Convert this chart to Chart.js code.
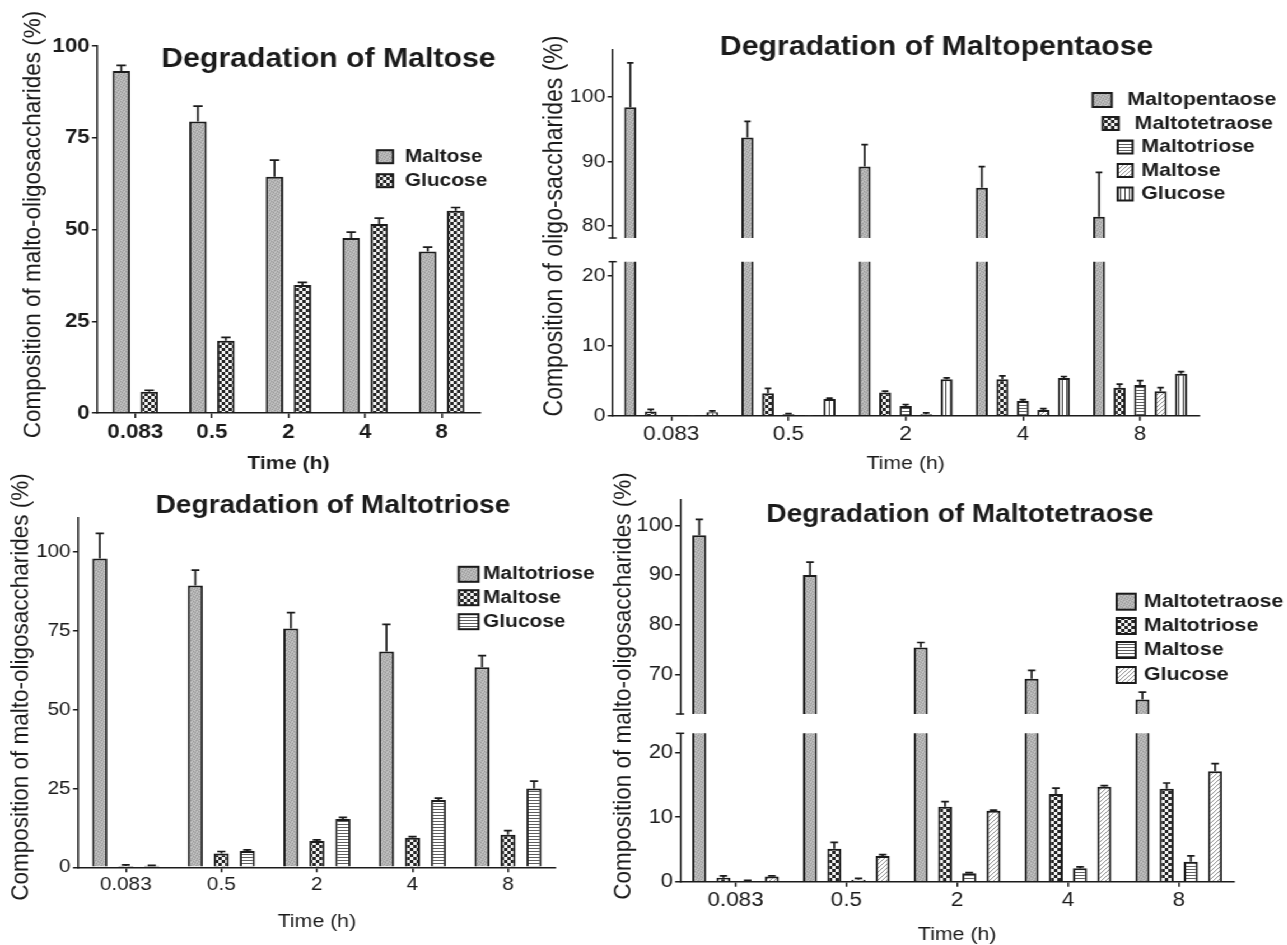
<!DOCTYPE html>
<html>
<head>
<meta charset="utf-8">
<title>Degradation of malto-oligosaccharides</title>
<script src="https://cdn.jsdelivr.net/npm/chart.js@4.4.1/dist/chart.umd.min.js"></script>
<style>
  html, body { margin: 0; padding: 0; background: #ffffff; }
  body { width: 1287px; height: 945px; overflow: hidden; position: relative; }
  /* the whole sheet is laid out at a narrower width and widened horizontally */
  #sheet { position: absolute; left: 0; top: 0; width: 1149.1px; height: 945px;
           transform: scaleX(1.12); transform-origin: 0 0; }
  #sheet canvas { position: absolute; }
</style>
</head>
<body>
<div id="sheet"></div>
<script>
// ---------- data ----------
const times = ['0.083', '0.5', '2', '4', '8'];

// Degradation of Maltose
const mal_maltose   = [93.2, 79.4, 64.4, 47.7, 44.0];
const mal_maltoseSD = [1.5, 4.2, 4.5, 1.6, 1.2];
const mal_glucose   = [5.8, 19.7, 34.9, 51.5, 55.1];
const mal_glucoseSD = [0.4, 0.9, 0.7, 1.6, 0.9];
const mal_yTicks = [0, 25, 50, 75, 100];
const mal_yRange = [0, 100];

// Degradation of Maltopentaose
const pen_maltopentaose   = [98.4, 93.7, 89.2, 85.9, 81.4];
const pen_maltopentaoseSD = [6.9, 2.5, 3.4, 3.3, 6.9];
const pen_maltotetraose   = [0.6, 3.2, 3.3, 5.2, 4.0];
const pen_maltotetraoseSD = [0.3, 0.7, 0.2, 0.5, 0.5];
const pen_maltotriose     = [0.1, 0.2, 1.4, 2.1, 4.4];
const pen_maltotrioseSD   = [0, 0.1, 0.2, 0.2, 0.6];
const pen_maltose         = [0.05, 0.05, 0.2, 0.8, 3.5];
const pen_maltoseSD       = [0, 0, 0.2, 0.2, 0.5];
const pen_glucose         = [0.5, 2.4, 5.2, 5.4, 6.0];
const pen_glucoseSD       = [0.2, 0.1, 0.2, 0.2, 0.3];
const pen_upperTicks = [80, 90, 100];
const pen_upperRange = [78.1, 107.3];
const pen_lowerTicks = [0, 10, 20];
const pen_lowerRange = [0, 22];

// Degradation of Maltotriose
const tri_maltotriose   = [97.9, 89.3, 75.7, 68.4, 63.4];
const tri_maltotrioseSD = [7.9, 4.9, 5.0, 8.6, 3.7];
const tri_maltose       = [0.4, 4.4, 8.3, 9.4, 10.3];
const tri_maltoseSD     = [0.4, 0.6, 0.4, 0.3, 1.3];
const tri_glucose       = [0.5, 5.2, 15.3, 21.3, 25.0];
const tri_glucoseSD     = [0.1, 0.3, 0.5, 0.6, 2.3];
const tri_yTicks = [0, 25, 50, 75, 100];
const tri_yRange = [0, 110.7];

// Degradation of Maltotetraose
const tet_maltotetraose   = [98.0, 90.0, 75.4, 69.1, 64.9];
const tet_maltotetraoseSD = [3.2, 2.6, 1.0, 1.7, 1.5];
const tet_maltotriose     = [0.6, 5.1, 11.6, 13.6, 14.4];
const tet_maltotrioseSD   = [0.3, 1.0, 0.8, 0.9, 0.9];
const tet_maltose         = [0.1, 0.3, 1.3, 2.1, 3.1];
const tet_maltoseSD       = [0.1, 0.2, 0.1, 0.2, 0.9];
const tet_glucose         = [0.8, 4.0, 11.0, 14.7, 17.1];
const tet_glucoseSD       = [0.1, 0.2, 0.1, 0.2, 1.2];
const tet_upperTicks = [70, 80, 90, 100];
const tet_upperRange = [62.0, 105.1];
const tet_lowerTicks = [0, 10, 20];
const tet_lowerRange = [0, 23];

// ---------- drawing ----------
const SX = 1.12;                       // horizontal widening of #sheet
const FONT = "'Liberation Sans', Arial, Helvetica, sans-serif";
const INK = '#1b1b1b';
Chart.defaults.font.family = FONT;
Chart.defaults.color = INK;

// hatch fills for the bars
function fills(ctx) {
  const mk = (w, h, fn) => {
    const c = document.createElement('canvas');
    c.width = w; c.height = h;
    fn(c.getContext('2d'));
    return ctx.createPattern(c, 'repeat');
  };
  return {
    // fine grey stipple: mid grey with a few lighter and darker specks
    stipple: mk(5, 5, g => {
      g.fillStyle = '#b2b2b2'; g.fillRect(0, 0, 5, 5);
      g.fillStyle = '#999999';
      [[0, 0], [2, 1], [4, 2], [1, 3], [3, 4]].forEach(([x, y]) => g.fillRect(x, y, 1, 1));
      g.fillStyle = '#c9c9c9';
      [[3, 0], [0, 2], [2, 3], [4, 4], [1, 1]].forEach(([x, y]) => g.fillRect(x, y, 1, 1));
    }),
    checker: mk(6, 6, g => { g.fillStyle = '#f2f2f2'; g.fillRect(0, 0, 6, 6);
                             g.fillStyle = '#262626'; g.fillRect(0, 0, 3, 3); g.fillRect(3, 3, 3, 3); }),
    hlines:  mk(4, 3, g => { g.fillStyle = '#ffffff'; g.fillRect(0, 0, 4, 3);
                             g.fillStyle = '#5e5e5e'; g.fillRect(0, 0, 4, 1); }),
    vlines:  mk(4, 4, g => { g.fillStyle = '#ffffff'; g.fillRect(0, 0, 4, 4);
                             g.fillStyle = '#3a3a3a'; g.fillRect(0, 0, 1, 4); }),
    diag:    mk(4, 4, g => { g.fillStyle = '#ffffff'; g.fillRect(0, 0, 4, 4);
                             g.fillStyle = '#8f8f8f'; for (let i = 0; i < 4; i++) g.fillRect(3 - i, i, 1, 1); })
  };
}

// one-sided (upper) error bars
const errorBars = {
  id: 'errorBars',
  afterDatasetsDraw(chart) {
    const { ctx, chartArea: a, scales: { y } } = chart;
    ctx.save();
    ctx.beginPath();
    ctx.rect(a.left - 2, a.top - 1, a.right - a.left + 4, a.bottom - a.top + 1);
    ctx.clip();
    ctx.strokeStyle = INK;
    ctx.lineWidth = 1.7;
    chart.data.datasets.forEach((ds, i) => {
      if (!ds.errors) return;
      chart.getDatasetMeta(i).data.forEach((bar, j) => {
        const e = ds.errors[j];
        if (!e) return;
        const v = ds.data[j];
        const yv = y.getPixelForValue(v), yt = y.getPixelForValue(v + e);
        const half = bar.width * 0.27;
        ctx.beginPath();
        ctx.moveTo(bar.x, yv); ctx.lineTo(bar.x, yt);
        ctx.moveTo(bar.x - half, yt); ctx.lineTo(bar.x + half, yt);
        ctx.stroke();
      });
    });
    ctx.restore();
  }
};

function drawPanel(o) {
  const sheet = document.getElementById('sheet');
  const left = o.box.x / SX, width = Math.round(o.box.w / SX), height = o.box.h;
  const cv = document.createElement('canvas');
  cv.width = width; cv.height = height;
  Object.assign(cv.style, { left: left + 'px', top: o.box.y + 'px', width: width + 'px', height: height + 'px' });
  sheet.appendChild(cv);
  const pat = fills(cv.getContext('2d'));
  const lx = x => x / SX - left, ly = yy => yy - o.box.y;

  const yW = o.area.l / SX - left;
  const padR = left + width - o.area.r / SX;
  const padT = o.area.t - o.box.y;
  const xH = o.box.y + o.box.h - o.area.b;

  const datasets = o.series.map(s => ({
    label: s.label, data: s.data, errors: s.sd,
    backgroundColor: pat[s.fill], borderColor: INK, borderWidth: 2, clip: 0
  }));

  const deco = {
    id: 'deco',
    afterDraw(chart) {
      const c = chart.ctx;
      c.save();
      c.fillStyle = INK; c.strokeStyle = INK;
      if (o.title) {
        c.font = `bold ${o.title.size}px ${FONT}`;
        c.textAlign = 'center'; c.textBaseline = 'alphabetic';
        c.fillText(o.title.text, lx(o.title.x), ly(o.title.y));
      }
      if (o.yTitle) {
        c.save();
        c.translate(lx(o.yTitle.x), ly(o.yTitle.y));
        c.rotate(-Math.PI / 2);
        c.font = `${o.yTitle.size}px ${FONT}`;
        c.textAlign = 'center'; c.textBaseline = 'middle';
        c.fillText(o.yTitle.text, 0, 0);
        c.restore();
      }
      if (o.legend) {
        const ds = chart.data.datasets;
        o.legend.rows.forEach((r, i) => {
          const x0 = lx(r.x0), x1 = lx(r.x1), y0 = ly(r.y - r.h / 2);
          c.fillStyle = ds[i].backgroundColor;
          c.fillRect(x0, y0, x1 - x0, r.h);
          c.lineWidth = 2; c.strokeStyle = INK;
          c.strokeRect(x0, y0, x1 - x0, r.h);
          c.fillStyle = INK;
          c.font = `bold ${o.legend.size}px ${FONT}`;
          c.textAlign = 'left'; c.textBaseline = 'middle';
          c.fillText(ds[i].label, lx(r.tx), ly(r.y));
        });
      }
      if (o.caps) {
        const a = chart.chartArea, h = 4 / SX;
        c.lineWidth = 1.5;
        o.caps.forEach(pos => {
          const yy = pos === 'top' ? a.top : a.bottom;
          c.beginPath(); c.moveTo(a.left - h, yy); c.lineTo(a.left + h, yy); c.stroke();
        });
      }
      c.restore();
    }
  };

  return new Chart(cv, {
    type: 'bar',
    data: { labels: times, datasets },
    options: {
      responsive: false, animation: false, devicePixelRatio: 1, events: [],
      layout: { padding: { left: 0, right: padR, top: padT, bottom: o.showX ? 0 : xH } },
      plugins: { legend: { display: false }, tooltip: { enabled: false } },
      datasets: { bar: { categoryPercentage: o.cat, barPercentage: o.bar } },
      scales: {
        x: {
          display: o.showX, offset: true,
          grid: { offset: false, drawOnChartArea: false, drawTicks: true, tickLength: 5, color: INK, lineWidth: 1.5 },
          border: { display: true, color: INK, width: 1.5 },
          ticks: { color: INK, font: { size: o.xTickSize, weight: o.weight }, padding: 2, autoSkip: false, maxRotation: 0 },
          title: { display: true, text: 'Time (h)', color: INK,
                   font: { size: 19, weight: o.weight, lineHeight: 1 },
                   padding: { top: 0, bottom: o.xTitlePad } },
          afterFit(s) { s.height = xH; }
        },
        y: {
          min: o.yRange[0], max: o.yRange[1],
          afterBuildTicks(s) { s.ticks = o.yTicks.map(v => ({ value: v })); },
          grid: { drawOnChartArea: false, drawTicks: true, tickLength: 5 / SX, color: INK, lineWidth: 1.5 },
          border: { display: true, color: INK, width: 1.5 },
          ticks: { color: INK, font: { size: o.yTickSize, weight: o.weight }, padding: 2 },
          afterFit(s) { s.width = yW; }
        }
      }
    },
    plugins: [errorBars, deco]
  });
}

// ---- Degradation of Maltose ----
drawPanel({
  box: { x: 0, y: 0, w: 520, h: 480 }, area: { l: 97, r: 480, t: 46, b: 413 },
  showX: true, yRange: mal_yRange, yTicks: mal_yTicks, cat: 0.73, bar: 0.625,
  weight: 'bold', xTickSize: 20, yTickSize: 20, xTitlePad: 6.5,
  series: [
    { label: 'Maltose', data: mal_maltose, sd: mal_maltoseSD, fill: 'stipple' },
    { label: 'Glucose', data: mal_glucose, sd: mal_glucoseSD, fill: 'checker' }
  ],
  title: { text: 'Degradation of Maltose', x: 328.5, y: 66.7, size: 27 },
  yTitle: { text: 'Composition of malto-oligosaccharides (%)', x: 33, y: 224.5, size: 22.5 },
  legend: { size: 18.6, rows: [
    { x0: 377, x1: 393, y: 156.7, h: 13, tx: 405 },
    { x0: 377, x1: 393, y: 180.7, h: 13, tx: 405 }
  ] }
});

// ---- Degradation of Maltopentaose (broken axis) ----
const penSeries = [
  { label: 'Maltopentaose', data: pen_maltopentaose, sd: pen_maltopentaoseSD, fill: 'stipple' },
  { label: 'Maltotetraose', data: pen_maltotetraose, sd: pen_maltotetraoseSD, fill: 'checker' },
  { label: 'Maltotriose',   data: pen_maltotriose,   sd: pen_maltotrioseSD,   fill: 'hlines' },
  { label: 'Maltose',       data: pen_maltose,       sd: pen_maltoseSD,       fill: 'diag' },
  { label: 'Glucose',       data: pen_glucose,       sd: pen_glucoseSD,       fill: 'vlines' }
];
drawPanel({
  box: { x: 520, y: 0, w: 767, h: 480 }, area: { l: 613, r: 1199, t: 261.7, b: 415.7 },
  showX: true, yRange: pen_lowerRange, yTicks: pen_lowerTicks, cat: 0.875, bar: 0.585,
  weight: 'normal', xTickSize: 20, yTickSize: 19, xTitlePad: 6.5, caps: ['top'],
  series: penSeries,
  title: { text: 'Degradation of Maltopentaose', x: 937, y: 55, size: 27 },
  yTitle: { text: 'Composition of oligo-saccharides (%)', x: 555, y: 226, size: 23 },
  legend: { size: 19, rows: [
    { x0: 1093, x1: 1112, y: 100,   h: 14, tx: 1127.7 },
    { x0: 1103, x1: 1119, y: 123.5, h: 13, tx: 1135 },
    { x0: 1118, x1: 1133, y: 147,   h: 13, tx: 1141.7 },
    { x0: 1118, x1: 1133, y: 170.5, h: 13, tx: 1141.7 },
    { x0: 1118, x1: 1133, y: 194,   h: 13, tx: 1141.7 }
  ] }
});
drawPanel({
  box: { x: 520, y: 0, w: 767, h: 258 }, area: { l: 613, r: 1199, t: 50, b: 248 },
  showX: false, yRange: pen_upperRange, yTicks: pen_upperTicks, cat: 0.875, bar: 0.585,
  weight: 'normal', xTickSize: 20, yTickSize: 19, xTitlePad: 0, caps: ['bottom'],
  series: penSeries
});

// ---- Degradation of Maltotriose ----
drawPanel({
  box: { x: 0, y: 470, w: 640, h: 475 }, area: { l: 78, r: 555.8, t: 518, b: 867.3 },
  showX: true, yRange: tri_yRange, yTicks: tri_yTicks, cat: 0.816, bar: 0.58,
  weight: 'normal', xTickSize: 18.5, yTickSize: 18.6, xTitlePad: 13.8,
  series: [
    { label: 'Maltotriose', data: tri_maltotriose, sd: tri_maltotrioseSD, fill: 'stipple' },
    { label: 'Maltose',     data: tri_maltose,     sd: tri_maltoseSD,     fill: 'checker' },
    { label: 'Glucose',     data: tri_glucose,     sd: tri_glucoseSD,     fill: 'hlines' }
  ],
  title: { text: 'Degradation of Maltotriose', x: 333, y: 513, size: 25 },
  yTitle: { text: 'Composition of malto-oligosaccharides (%)', x: 21, y: 687, size: 22.5 },
  legend: { size: 18.7, rows: [
    { x0: 458.7, x1: 478.5, y: 574.3, h: 15, tx: 483 },
    { x0: 458.7, x1: 478.5, y: 597.7, h: 15, tx: 483 },
    { x0: 458.7, x1: 478.5, y: 621.7, h: 15, tx: 483 }
  ] }
});

// ---- Degradation of Maltotetraose (broken axis) ----
const tetSeries = [
  { label: 'Maltotetraose', data: tet_maltotetraose, sd: tet_maltotetraoseSD, fill: 'stipple' },
  { label: 'Maltotriose',   data: tet_maltotriose,   sd: tet_maltotrioseSD,   fill: 'checker' },
  { label: 'Maltose',       data: tet_maltose,       sd: tet_maltoseSD,       fill: 'hlines' },
  { label: 'Glucose',       data: tet_glucose,       sd: tet_glucoseSD,       fill: 'diag' }
];
drawPanel({
  box: { x: 580, y: 470, w: 707, h: 475 }, area: { l: 680, r: 1234, t: 733.3, b: 881.7 },
  showX: true, yRange: tet_lowerRange, yTicks: tet_lowerTicks, cat: 0.874, bar: 0.58,
  weight: 'normal', xTickSize: 20, yTickSize: 19.5, xTitlePad: 0.5, caps: ['top'],
  series: tetSeries,
  title: { text: 'Degradation of Maltotetraose', x: 960, y: 521.5, size: 25 },
  yTitle: { text: 'Composition of malto-oligosaccharides (%)', x: 624, y: 686, size: 22.5 },
  legend: { size: 19.2, rows: [
    { x0: 1116.5, x1: 1135.5, y: 601.7, h: 16, tx: 1143.6 },
    { x0: 1116.5, x1: 1135.5, y: 626,   h: 16, tx: 1143.6 },
    { x0: 1116.5, x1: 1135.5, y: 650,   h: 16, tx: 1143.6 },
    { x0: 1116.5, x1: 1135.5, y: 675,   h: 16, tx: 1143.6 }
  ] }
});
drawPanel({
  box: { x: 580, y: 470, w: 707, h: 258 }, area: { l: 680, r: 1234, t: 500, b: 721 },
  showX: false, yRange: tet_upperRange, yTicks: tet_upperTicks, cat: 0.874, bar: 0.58,
  weight: 'normal', xTickSize: 20, yTickSize: 19.5, xTitlePad: 0, caps: ['bottom'],
  series: tetSeries
});
</script>
</body>
</html>
